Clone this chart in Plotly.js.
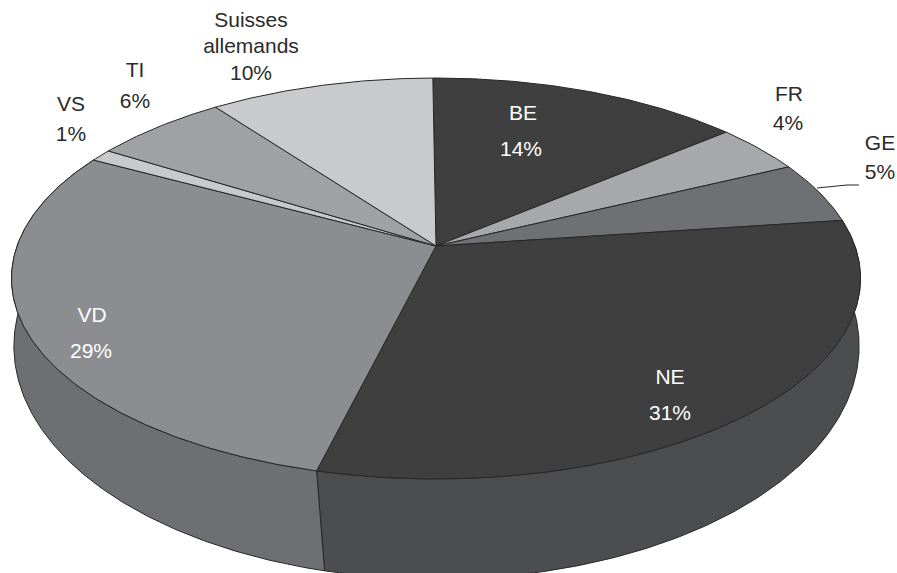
<!DOCTYPE html>
<html>
<head>
<meta charset="utf-8">
<script src="https://cdn.plot.ly/plotly-3.0.1.min.js"></script>
<style>html,body{margin:0;padding:0;background:#fff}#chart{width:897px;height:573px}</style>
</head>
<body>
<div id="chart"></div>
<script>
// Origin of respondents by canton, drawn clockwise from twelve o'clock
const categories = ['BE', 'FR', 'GE', 'NE', 'VD', 'VS', 'TI', 'Suisses allemands'];
const shares = [14, 4, 5, 31, 29, 1, 6, 10];

const topColors = ['#3f3f40', '#a7a8ab', '#6f7073', '#3f3f40', '#8c8d90', '#c8c9cb', '#a0a1a4', '#c9cacc'];
const wallColors = {NE: '#4c4d4f', VD: '#6e6f72'};
const labelLineBreaks = {'Suisses allemands': ['Suisses', 'allemands']};
const whiteLabels = ['BE', 'NE', 'VD'];

// Label anchors: one [x, y] per text line, last line is the percentage
const labelAnchors = {
  'BE': [[523, 115], [521, 151]],
  'FR': [[789, 96], [788, 125]],
  'GE': [[880, 145], [880, 174]],
  'NE': [[670, 379], [670, 415]],
  'VD': [[92, 317], [91, 353]],
  'VS': [[71, 106], [71, 136]],
  'TI': [[135, 72], [135, 103]],
  'Suisses allemands': [[251, 22], [251, 48], [251, 75]]
};
const leaderGE = {x: [817, 847, 859], y: [188, 185, 185]};

// Perspective projection of a unit disc seen from above
const startAngle = -0.5 * Math.PI / 180;
const topDisc = {cx: 436, cy: 246, R: 418.9, S: 195.2, k: 0.162};
const baseDisc = {cx: 436.5, cy: 322.8, R: 420.5, S: 230.7, k: 0.1};

function project(disc, angle) {
  const u = Math.sin(angle), v = Math.cos(angle), w = 1 + disc.k * v;
  return [disc.cx + disc.R * u / w, disc.cy - disc.S * v / w];
}
function arc(disc, a0, a1) {
  const n = Math.max(2, Math.ceil(Math.abs(a1 - a0) / 0.01));
  const pts = [];
  for (let i = 0; i <= n; i++) pts.push(project(disc, a0 + (a1 - a0) * i / n));
  return pts;
}

const total = shares.reduce((a, b) => a + b, 0);
let running = 0;
const spans = shares.map(s => {
  const a0 = startAngle + running / total * 2 * Math.PI;
  running += s;
  return [a0, startAngle + running / total * 2 * Math.PI];
});

function polygon(pts, fill, name) {
  return {
    type: 'scatter', mode: 'lines', name: name, hoverinfo: 'skip', showlegend: false,
    x: pts.map(p => p[0]), y: pts.map(p => p[1]),
    fill: 'toself', fillcolor: fill,
    line: {color: '#2a2627', width: 1}
  };
}

const traces = [];

// Side walls, only the two front slices are visible
['NE', 'VD'].forEach(name => {
  const [a0, a1] = spans[categories.indexOf(name)];
  const pts = arc(topDisc, a0, a1).concat(arc(baseDisc, a1, a0));
  pts.push(pts[0]);
  traces.push(polygon(pts, wallColors[name], name + ' wall'));
});

// Top face
categories.forEach((name, i) => {
  const [a0, a1] = spans[i];
  const apex = [topDisc.cx, topDisc.cy];
  const pts = [apex].concat(arc(topDisc, a0, a1), [apex]);
  traces.push(polygon(pts, topColors[i], name));
});

// Leader line for the GE label
traces.push({
  type: 'scatter', mode: 'lines', hoverinfo: 'skip', showlegend: false,
  x: leaderGE.x, y: leaderGE.y, line: {color: '#2a2627', width: 1}
});

// Slice labels, one text point per line
const tx = [], ty = [], tt = [], tc = [];
categories.forEach((name, i) => {
  const lines = (labelLineBreaks[name] || [name]).concat([shares[i] + '%']);
  lines.forEach((line, j) => {
    const [x, y] = labelAnchors[name][j];
    tx.push(x); ty.push(y); tt.push(line);
    tc.push(whiteLabels.includes(name) ? '#ffffff' : '#2b2a2b');
  });
});
traces.push({
  type: 'scatter', mode: 'text', hoverinfo: 'skip', showlegend: false,
  x: tx, y: ty, text: tt, textposition: 'middle center', cliponaxis: false,
  textfont: {family: '"Liberation Sans", Arial, sans-serif', size: 21, color: tc}
});

const layout = {
  width: 897, height: 573,
  margin: {l: 0, r: 0, t: 0, b: 0},
  paper_bgcolor: '#ffffff', plot_bgcolor: '#ffffff',
  showlegend: false,
  xaxis: {range: [0, 897], visible: false, fixedrange: true},
  yaxis: {range: [573, 0], visible: false, fixedrange: true}
};

Plotly.newPlot('chart', traces, layout, {displayModeBar: false, staticPlot: true});
</script>
</body>
</html>
